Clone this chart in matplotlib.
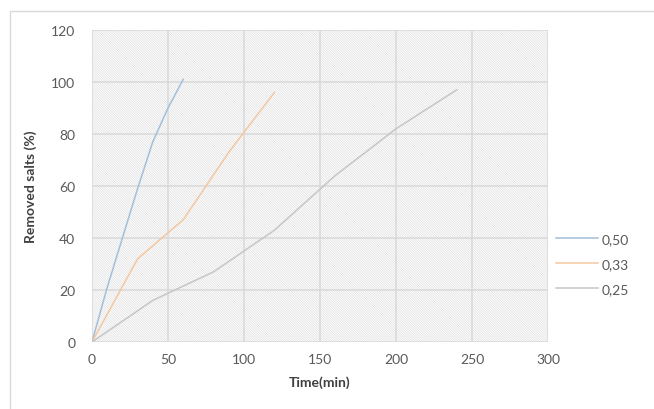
import matplotlib.pyplot as plt
from matplotlib.patches import Rectangle

# data
t_050 = [0, 10, 20, 30, 40, 50, 60]
s_050 = [0, 21, 40, 59, 77, 90, 101]
t_033 = [0, 30, 60, 90, 120]
s_033 = [0, 32, 47, 73, 96]
t_025 = [0, 40, 80, 120, 160, 200, 240]
s_025 = [0, 16, 27, 43, 64, 82, 97]
labels = ['0,50', '0,33', '0,25']
colors = ['#a3bfd9', '#f5c7a0', '#c6c6c6']

plt.rcParams['font.family'] = ['Lato', 'DejaVu Sans']

fig = plt.figure(figsize=(6.54, 4.10), dpi=100)
# outer chart border
fig.patches.append(Rectangle((10 / 654, -0.05), 1.2, 1 - 12 / 410 + 0.05,
                             transform=fig.transFigure, fill=False,
                             edgecolor='#d9d9d9', linewidth=1.0))

ax = fig.add_axes([92 / 654, 1 - 343 / 410, 456 / 654, 312 / 410])

# hatched plot area
ax.patch.set_facecolor('white')
plt.rcParams['hatch.linewidth'] = 0.5
ax.add_patch(Rectangle((0, 0), 1, 1, transform=ax.transAxes, facecolor='white',
                       edgecolor='#dedede', hatch='\\' * 14, linewidth=0, zorder=0))

ax.plot(t_050, s_050, color=colors[0], lw=1.1, label=labels[0], zorder=3)
ax.plot(t_033, s_033, color=colors[1], lw=1.1, label=labels[1], zorder=3)
ax.plot(t_025, s_025, color=colors[2], lw=1.1, label=labels[2], zorder=3)

ax.set_xlim(0, 300)
ax.set_ylim(0, 120)
ax.set_xticks(range(0, 301, 50))
ax.set_yticks(range(0, 121, 20))
ax.grid(True, color='#d9d9d9', lw=1.1, zorder=1)
ax.set_axisbelow(True)
for s in ax.spines.values():
    s.set_visible(False)
ax.tick_params(length=0, labelsize=10, labelcolor='#595959')
ax.tick_params(axis='y', pad=12)
ax.tick_params(axis='x', pad=8)

ax.set_xlabel('Time(min)', fontsize=10, fontweight='bold', color='#404040', labelpad=7)
ax.set_ylabel('Removed salts (%)', fontsize=10, fontweight='bold', color='#404040', labelpad=10)

ax.legend(loc='center left', bbox_to_anchor=(0.99, 0.25), frameon=False,
          fontsize=10, labelcolor='#595959', handlelength=3.0, handletextpad=0.3,
          labelspacing=0.95)

fig.savefig('out.png', dpi=100)
